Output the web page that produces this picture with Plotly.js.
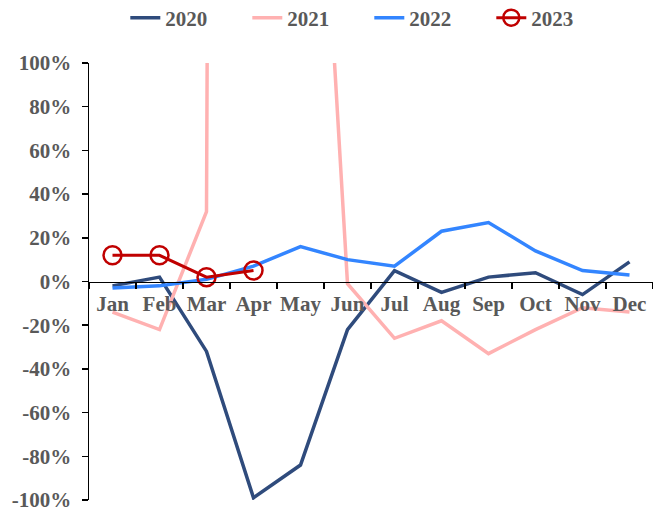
<!DOCTYPE html>
<html>
<head>
<meta charset="utf-8">
<script src="https://cdn.plot.ly/plotly-3.0.1.min.js"></script>
<style>html,body{margin:0;padding:0;background:#fff;}#chart{width:653px;height:513px;}</style>
</head>
<body>
<div id="chart"></div>
<script>
var months = ["Jan","Feb","Mar","Apr","May","Jun","Jul","Aug","Sep","Oct","Nov","Dec"];
var seriesNames = ["2020","2021","2022","2023"];
var y2020 = [-2, 2, -32, -99, -84, -22, 5, -5, 2, 4, -6, 9];
var y2021 = [-14, -22, 32, 5000, 365, -1, -26, -18, -33, -22, -12, -14];
var y2022 = [-3, -2, 1, 7, 16, 10, 7, 23, 27, 14, 5, 3];
var y2023 = [12, 12, 2, 5];
var yTickVals = [-100, -80, -60, -40, -20, 0, 20, 40, 60, 80, 100];
var yTickText = yTickVals.map(function(v){ return v + "%"; });

var font = {family: "Liberation Serif, Times New Roman, serif", size: 21, color: "#595959", weight: "bold"};

var traces = [
  {x: months, y: y2020, name: seriesNames[0], type: "scatter", mode: "lines",
   line: {color: "#2F4B7C", width: 3.5}},
  {x: months, y: y2021, name: seriesNames[1], type: "scatter", mode: "lines",
   line: {color: "#FFB1B1", width: 3.5}},
  {x: months, y: y2022, name: seriesNames[2], type: "scatter", mode: "lines",
   line: {color: "#3385FF", width: 3.5}},
  {x: months.slice(0, y2023.length), y: y2023, name: seriesNames[3], type: "scatter", mode: "lines+markers",
   line: {color: "#C00000", width: 3},
   marker: {symbol: "circle-open", size: 18, color: "#C00000", line: {width: 2.5, color: "#C00000"}}}
];

var layout = {
  width: 653, height: 513,
  margin: {l: 89, r: 0, t: 63, b: 13, autoexpand: false},
  paper_bgcolor: "#ffffff", plot_bgcolor: "#ffffff",
  font: font,
  showlegend: true,
  legend: {orientation: "h", x: 0.497, xanchor: "center", y: 1.103, yanchor: "middle",
           font: font, entrywidth: 77, traceorder: "normal", bgcolor: "rgba(0,0,0,0)"},
  xaxis: {type: "category", categoryorder: "array", categoryarray: months,
          range: [-0.5, 11.5], anchor: "free", position: 0.5,
          showline: true, linecolor: "#000000", linewidth: 1.5,
          ticks: "outside", tickson: "boundaries", ticklen: 6, tickwidth: 1.5, tickcolor: "#000000",
          tickangle: 0, automargin: false, ticklabelstandoff: 3,
          showgrid: false, zeroline: false, tickfont: font, fixedrange: true},
  yaxis: {range: [-100, 100], tickvals: yTickVals, ticktext: yTickText,
          showline: true, linecolor: "#000000", linewidth: 1.5,
          ticks: "outside", ticklen: 6, tickwidth: 1.5, tickcolor: "#000000", automargin: false,
          showgrid: false, zeroline: false, tickfont: font, ticklabelstandoff: 6, fixedrange: true}
};

Plotly.newPlot("chart", traces, layout, {displayModeBar: false, staticPlot: true});
</script>
</body>
</html>
